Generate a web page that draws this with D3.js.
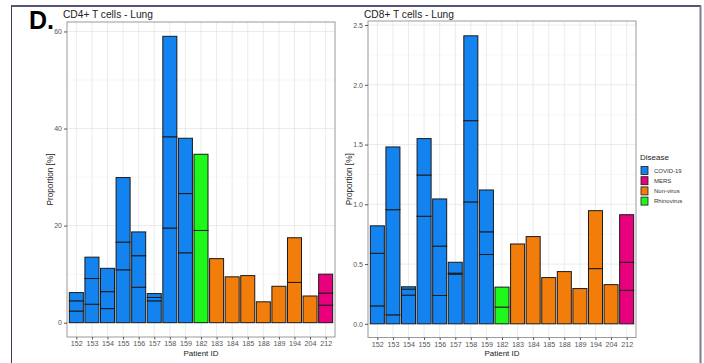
<!DOCTYPE html>
<html><head><meta charset="utf-8">
<script src="https://cdn.jsdelivr.net/npm/d3@7"></script>
<style>body{margin:0;background:#fff}svg{display:block;font-family:"Liberation Sans",Arial,sans-serif}</style>
</head><body><svg id="c" width="704" height="363"></svg>
<script>
const patients = ["152","153","154","155","156","157","158","159","182","183","184","185","188","189","194","204","212"];
const disease = ["COVID-19","COVID-19","COVID-19","COVID-19","COVID-19","COVID-19","COVID-19","COVID-19","Rhinovirus","Non-virus","Non-virus","Non-virus","Non-virus","Non-virus","Non-virus","Non-virus","MERS"];
const diseases = ["COVID-19","MERS","Non-virus","Rhinovirus"];
const diseaseColors = ["#1383ef","#e8007c","#f27d0b","#1ef81a"];
// stacked segment heights (bottom to top)
const cd4 = [[2.4,2.1,1.7],[3.8,5.3,4.4],[2.9,3.5,4.8],[10.9,5.7,13.3],[7.3,6.5,4.9],[4.5,0.7,0.8],[19.5,18.8,20.7],[14.4,12.2,11.4],[19.0,15.7],[13.2],[9.45],[9.7],[4.3],[7.5],[8.3,9.2],[5.5],[3.6,2.5,3.9]];
const cd8 = [[0.15,0.44,0.23],[0.075,0.88,0.525],[0.24,0.05,0.02],[0.90,0.345,0.305],[0.237,0.413,0.395],[0.415,0.009,0.091],[1.02,0.68,0.71],[0.58,0.19,0.35],[0.14,0.167],[0.668],[0.73],[0.387],[0.437],[0.295],[0.462,0.485],[0.328],[0.28,0.235,0.398]];
const cd4Ticks = [0,20,40,60], cd4Minor = [10,30,50];
const cd8Ticks = [0,0.5,1.0,1.5,2.0,2.5], cd8Minor = [0.25,0.75,1.25,1.75,2.25];

const svg = d3.select("#c");
const color = d3.scaleOrdinal().domain(diseases).range(diseaseColors);

// frame
svg.append("line").attr("x1",11).attr("x2",701).attr("y1",6).attr("y2",6).attr("stroke","#1c1c48").attr("stroke-width",1.5);
svg.append("line").attr("x1",11.5).attr("x2",11.5).attr("y1",6).attr("y2",363).attr("stroke","#3a3d55").attr("stroke-width",1);
svg.append("line").attr("x1",700.5).attr("x2",700.5).attr("y1",6).attr("y2",363).attr("stroke","#7a7d90").attr("stroke-width",2);
svg.append("text").attr("x",29).attr("y",28.5).attr("font-size",25).attr("font-weight","bold").attr("fill","#000").text("D.");

function panel(cfg){
  const g = svg.append("g");
  // ggplot-like discrete axis: expand 0.6 units each side
  const step = (cfg.right-cfg.left)/(patients.length-1+1.2);
  const xs = d3.scalePoint().domain(patients).range([cfg.left + step*0.6, cfg.right - step*0.6]);
  const y = d3.scaleLinear().domain(cfg.ydom).range([cfg.bottom, cfg.top]);
  g.append("rect").attr("x",cfg.left).attr("y",cfg.top).attr("width",cfg.right-cfg.left).attr("height",cfg.bottom-cfg.top).attr("fill","#fff");
  g.selectAll(".mn").data(cfg.minor).join("line").attr("x1",cfg.left).attr("x2",cfg.right)
    .attr("y1",d=>y(d)).attr("y2",d=>y(d)).attr("stroke","#f2f2f2").attr("stroke-width",0.6);
  g.selectAll(".mj").data(cfg.ticks).join("line").attr("x1",cfg.left).attr("x2",cfg.right)
    .attr("y1",d=>y(d)).attr("y2",d=>y(d)).attr("stroke","#e6e6e6").attr("stroke-width",0.8);
  g.selectAll(".vx").data(patients).join("line").attr("x1",d=>xs(d)).attr("x2",d=>xs(d))
    .attr("y1",cfg.top).attr("y2",cfg.bottom).attr("stroke","#e6e6e6").attr("stroke-width",0.8);
  const bw = step*0.9;
  patients.forEach((p,i)=>{
    let cum = 0;
    cfg.data[i].forEach(v=>{
      const y0 = cum, y1 = cum+v; cum = y1;
      g.append("rect").attr("x",xs(p)-bw/2).attr("width",bw)
        .attr("y",y(y1)).attr("height",Math.max(0,y(y0)-y(y1)))
        .attr("fill",color(disease[i])).attr("stroke","#1a1a1a").attr("stroke-width",1);
    });
  });
  g.append("rect").attr("x",cfg.left).attr("y",cfg.top).attr("width",cfg.right-cfg.left).attr("height",cfg.bottom-cfg.top)
    .attr("fill","none").attr("stroke","#9a9a9a").attr("stroke-width",1);
  const ya = d3.axisLeft(y).tickValues(cfg.ticks).tickFormat(cfg.fmt).tickSize(3).tickPadding(2);
  const yg = g.append("g").attr("transform",`translate(${cfg.left},0)`).call(ya);
  yg.select(".domain").remove();
  yg.selectAll("line").attr("stroke","#555");
  yg.selectAll("text").attr("font-size",7).attr("fill","#555").attr("font-family","Liberation Sans, Arial, sans-serif");
  const xa = d3.axisBottom(xs).tickSize(2.5).tickPadding(1.5);
  const xg = g.append("g").attr("transform",`translate(0,${cfg.bottom})`).call(xa);
  xg.select(".domain").remove();
  xg.selectAll("line").attr("stroke","#555");
  xg.selectAll("text").attr("font-size",7.2).attr("fill","#555").attr("font-family","Liberation Sans, Arial, sans-serif");
  g.append("text").attr("x",(cfg.left+cfg.right)/2).attr("y",356).attr("text-anchor","middle").attr("font-size",8).attr("fill","#222").text("Patient ID");
  g.append("text").attr("transform",`translate(${cfg.ylabX},${(cfg.top+cfg.bottom)/2}) rotate(-90)`).attr("text-anchor","middle")
    .attr("font-size",8.2).attr("fill","#222").text("Proportion [%]");
  g.append("text").attr("x",cfg.left-4).attr("y",17.5).attr("font-size",10.2).attr("fill","#222").text(cfg.title);
}

panel({left:67,right:335,top:22,bottom:337,ydom:[-2.95,61.95],data:cd4,ticks:cd4Ticks,minor:cd4Minor,fmt:d3.format("d"),title:"CD4+ T cells - Lung",ylabX:53});
panel({left:368,right:636,top:21,bottom:337.5,ydom:[-0.1145,2.534],data:cd8,ticks:cd8Ticks,minor:cd8Minor,fmt:d3.format(".1f"),title:"CD8+ T cells - Lung",ylabX:352});

const lg = svg.append("g");
lg.append("text").attr("x",640).attr("y",160).attr("font-size",8).attr("fill","#222").text("Disease");
diseases.forEach((d,i)=>{
  const cy = 170.5 + i*10.2;
  lg.append("rect").attr("x",641).attr("y",cy-4).attr("width",7).attr("height",8).attr("fill",diseaseColors[i]).attr("stroke","#1a1a1a").attr("stroke-width",0.8);
  lg.append("text").attr("x",654).attr("y",cy+2.3).attr("font-size",6).attr("fill","#333").text(d);
});
</script></body></html>
